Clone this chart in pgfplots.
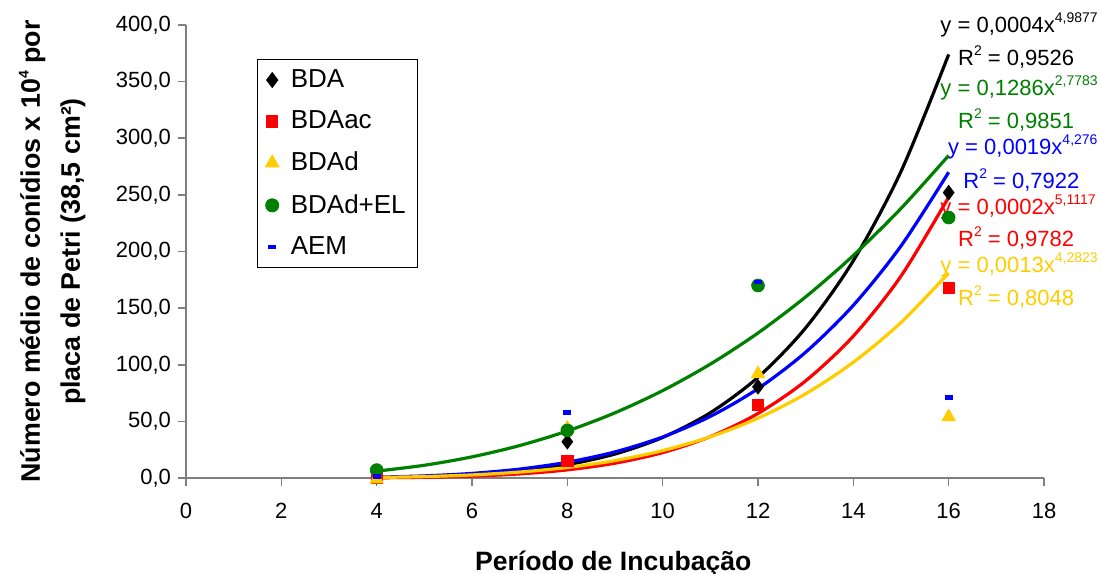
\documentclass[border=0pt]{standalone}
\usepackage{pgfplots}
\pgfplotsset{compat=1.18}
\usepackage{fontspec}
\setmainfont{Liberation Sans}

\definecolor{xlyellow}{HTML}{FFCC00}
\definecolor{xlgreen}{HTML}{008000}
\definecolor{xlred}{HTML}{FF0000}
\definecolor{xlblue}{HTML}{0000FF}
\definecolor{axisgray}{HTML}{808080}

\newcommand{\sq}[1]{\raisebox{0.8ex}{\fontsize{7}{7}\selectfont #1}}

\begin{document}
\begin{tikzpicture}
\begin{axis}[
    scale only axis,
    width=429pt, height=226.5pt,
    xmin=0, xmax=18, ymin=0, ymax=400,
    xtick={0,2,...,18},
    ytick={0,50,...,400},
    axis x line*=bottom,
    axis y line*=left,
    axis line style={axisgray, line width=0.8pt},
    tick style={axisgray, line width=0.8pt},
    tick align=outside,
    major tick length=4pt,
    clip=false,
    /pgf/number format/assume math mode=true,
    ticklabel style={font=\fontsize{11}{13}\selectfont},
    yticklabel style={/pgf/number format/.cd, fixed, fixed zerofill, precision=1, use comma},
    xticklabel style={yshift=-5pt},
    xlabel={Período de Incubação},
    xlabel style={font=\fontsize{13.3}{16}\selectfont\bfseries,
        at={(axis description cs:0.498,0)}, anchor=center, yshift=-42.5pt},
    ylabel={Número médio de conídios x 10\sq{4} por\\placa de Petri (38,5 cm²)},
    ylabel style={font=\fontsize{13.4}{20}\selectfont\bfseries, align=center,
        at={(axis description cs:-0.156,0.5)}, anchor=center},
    legend style={at={(axis description cs:0.0828,0.925)}, anchor=north west,
        draw=black, line width=0.6pt, font=\fontsize{13}{15}\selectfont,
        row sep=6.2pt, inner xsep=4pt, inner ysep=3pt,
        /tikz/every odd column/.append style={column sep=4pt}},
    legend cell align=left,
]
% data points
\addplot[only marks, mark=diamond*, mark size=3.6pt, black] coordinates {
    (4,1) (8,32) (12,80.5) (16,252)
};
\addlegendentry{BDA}
\addplot[only marks, mark=square*, mark size=2.8pt, xlred] coordinates {
    (4,0.5) (8,15) (12,64.5) (16,168)
};
\addlegendentry{BDAac}
\addplot[only marks, mark=triangle*, mark size=3.8pt, xlyellow] coordinates {
    (4,-1) (8,44) (12,92) (16,54)
};
\addlegendentry{BDAd}
\addplot[only marks, mark=*, mark size=3.2pt, xlgreen] coordinates {
    (4,7) (8,42) (12,170) (16,230)
};
\addlegendentry{BDAd+EL}
\addplot[only marks, mark=-, mark size=2pt, mark options={line width=2.2pt}, xlblue] coordinates {
    (4,1.5) (8,58) (12,173) (16,71)
};
\addlegendentry{AEM}

% power trend lines
\addplot[forget plot, smooth, line width=1.6pt, black] coordinates {
    (4,0.37) (5,1.13) (6,2.80) (7,6.05) (8,11.77) (9,21.18) (10,35.83)
    (11,57.63) (12,88.95) (13,132.6) (14,191.9) (15,270.7) (16,374)
};
\addplot[forget plot, smooth, line width=1.6pt, xlgreen] coordinates {
    (4,6.05) (5,11.25) (6,18.67) (7,28.65) (8,41.51) (9,57.58) (10,77.17)
    (11,100.56) (12,128.06) (13,159.96) (14,196.5) (15,238.05) (16,284.8)
};
\addplot[forget plot, smooth, line width=1.6pt, xlblue] coordinates {
    (4,0.72) (5,1.87) (6,4.07) (7,7.87) (8,13.94) (9,23.06) (10,36.19)
    (11,54.39) (12,78.91) (13,111.1) (14,152.5) (15,204.9) (16,270)
};
\addplot[forget plot, smooth, line width=1.6pt, xlred] coordinates {
    (4,0.21) (5,0.65) (6,1.65) (7,3.62) (8,7.17) (9,13.10) (10,22.44)
    (11,36.53) (12,56.99) (13,85.80) (14,125.3) (15,178.3) (16,248)
};
\addplot[forget plot, smooth, line width=1.6pt, xlyellow] coordinates {
    (4,0.48) (5,1.24) (6,2.71) (7,5.25) (8,9.30) (9,15.40) (10,24.19)
    (11,36.38) (12,52.80) (13,74.39) (14,102.2) (15,137.3) (16,181)
};

% trend line equations
\begin{scope}[every node/.style={anchor=west, inner sep=0pt, font=\fontsize{11}{13}\selectfont}]
\node[black]     at (axis cs:15.82,400)   {y = 0,0004x\sq{4,9877}};
\node[black]     at (axis cs:16.19,371.7) {R\sq{2} = 0,9526};
\node[xlgreen]   at (axis cs:15.82,344.4) {y = 0,1286x\sq{2,7783}};
\node[xlgreen]   at (axis cs:16.19,316.1) {R\sq{2} = 0,9851};
\node[xlblue]    at (axis cs:15.98,292.3) {y = 0,0019x\sq{4,276}};
\node[xlblue]    at (axis cs:16.30,263.1) {R\sq{2} = 0,7922};
\node[xlred]     at (axis cs:15.82,239.3) {y = 0,0002x\sq{5,1117}};
\node[xlred]     at (axis cs:16.19,211.9) {R\sq{2} = 0,9782};
\node[xlyellow]  at (axis cs:15.82,188.1) {y = 0,0013x\sq{4,2823}};
\node[xlyellow]  at (axis cs:16.19,159.8) {R\sq{2} = 0,8048};
\end{scope}
\end{axis}
\pgfresetboundingbox
\path[use as bounding box] (-93pt,-47.5pt) rectangle (457.5pt,239pt);
\end{tikzpicture}
\end{document}
